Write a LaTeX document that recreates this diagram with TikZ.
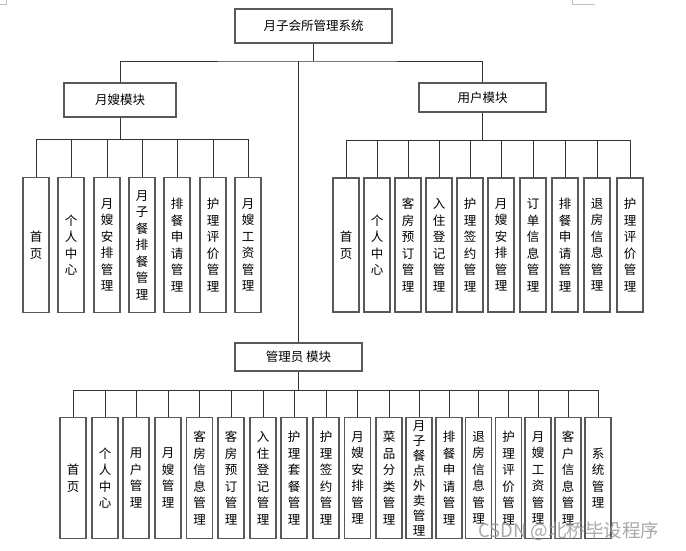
\documentclass[tikz,border=0pt]{standalone}
\usepackage{fontspec}
\setmainfont{Noto Sans CJK SC}
\newfontfamily\wmfont{Noto Sans CJK SC}
\begin{document}
\begin{tikzpicture}[x=1pt,y=-1pt,
  boxline/.style={draw=black!65,line width=1.05pt},
  topbox/.style={boxline,fill=white,inner sep=0pt,font=\fontsize{12.5}{15}\selectfont},
  cbox/.style={boxline,fill=white,inner sep=0pt,minimum width=26pt},
  ctext/.style={inner sep=0pt,align=center,font=\fontsize{12.5}{16.5}\selectfont},
  tighttext/.style={ctext,font=\fontsize{12.5}{15}\selectfont},
  conn/.style={draw=black!80,line width=0.9pt},
  cornermark/.style={draw=black!25,line width=0.6pt}]
\useasboundingbox (0,0) rectangle (686,551);
\fill[white] (0,0) rectangle (686,551);
% page corner marks
\draw[cornermark] (0,4) -- (6,4) -- (6,0);
\draw[cornermark] (572,0) -- (572,4) -- (595,4);

% top level
\node[topbox,minimum width=157pt,minimum height=34pt] (root) at (313.5,26) {月子会所管理系统};
\node[topbox,minimum width=112pt,minimum height=34pt] (m1) at (120,100) {月嫂模块};
\node[topbox,minimum width=127pt,minimum height=29pt] (m2) at (482.5,97.5) {用户模块};
\node[topbox,minimum width=127pt,minimum height=28pt] (m3) at (298.5,357) {管理员 模块};

\coordinate (tb) at (313.5,61);
\draw[conn] (root.south) -- (tb);
\draw[conn] (m1.north) |- (tb) -| (m2.north);
\draw[conn] (m3.north) -- (m3.north |- tb);

% child box: name, position, text style, height, text
\newcommand\kid[5]{%
  \node[cbox,minimum height=#4] (#1) at #2 {};
  \node[#3] (#1t) at (#1.center) {#5};}

% left group
\kid{l1}{(36,245)}{ctext}{135pt}{首\\页}
\kid{l2}{(71,245)}{ctext}{135pt}{个\\人\\中\\心}
\kid{l3}{(107,245)}{ctext}{135pt}{月\\嫂\\安\\排\\管\\理}
\kid{l4}{(142,245)}{ctext}{135pt}{月\\子\\餐\\排\\餐\\管\\理}
\kid{l5}{(177,245)}{ctext}{135pt}{排\\餐\\申\\请\\管\\理}
\kid{l6}{(213,245)}{ctext}{135pt}{护\\理\\评\\价\\管\\理}
\kid{l7}{(248,245)}{ctext}{135pt}{月\\嫂\\工\\资\\管\\理}
\coordinate (lb) at (120,139);
\draw[conn] (m1.south) -- (lb);
\foreach \i in {1,...,7} \draw[conn] (l\i.north) |- (lb);

% right group
\kid{r1}{(346,245)}{ctext}{134pt}{首\\页}
\kid{r2}{(377,245)}{ctext}{134pt}{个\\人\\中\\心}
\kid{r3}{(408,245)}{ctext}{134pt}{客\\房\\预\\订\\管\\理}
\kid{r4}{(439,245)}{ctext}{134pt}{入\\住\\登\\记\\管\\理}
\kid{r5}{(470,245)}{ctext}{134pt}{护\\理\\签\\约\\管\\理}
\kid{r6}{(501,245)}{ctext}{134pt}{月\\嫂\\安\\排\\管\\理}
\kid{r7}{(533,245)}{ctext}{134pt}{订\\单\\信\\息\\管\\理}
\kid{r8}{(565,245)}{ctext}{134pt}{排\\餐\\申\\请\\管\\理}
\kid{r9}{(597,245)}{ctext}{134pt}{退\\房\\信\\息\\管\\理}
\kid{r10}{(630,245)}{ctext}{134pt}{护\\理\\评\\价\\管\\理}
\coordinate (rb) at (482.5,140);
\draw[conn] (m2.south) -- (rb);
\foreach \i in {1,...,10} \draw[conn] (r\i.north) |- (rb);

% admin group
\kid{a1}{(73,478)}{ctext}{121pt}{首\\页}
\kid{a2}{(105,478)}{ctext}{121pt}{个\\人\\中\\心}
\kid{a3}{(136,478)}{ctext}{121pt}{用\\户\\管\\理}
\kid{a4}{(168,478)}{ctext}{121pt}{月\\嫂\\管\\理}
\kid{a5}{(199.5,478)}{ctext}{121pt}{客\\房\\信\\息\\管\\理}
\kid{a6}{(231,478)}{ctext}{121pt}{客\\房\\预\\订\\管\\理}
\kid{a7}{(263,478)}{ctext}{121pt}{入\\住\\登\\记\\管\\理}
\kid{a8}{(294,478)}{ctext}{121pt}{护\\理\\套\\餐\\管\\理}
\kid{a9}{(326,478)}{ctext}{121pt}{护\\理\\签\\约\\管\\理}
\kid{a10}{(357.5,478)}{ctext}{121pt}{月\\嫂\\安\\排\\管\\理}
\kid{a11}{(389,478)}{ctext}{121pt}{菜\\品\\分\\类\\管\\理}
\kid{a12}{(419,478)}{tighttext}{121pt}{月\\子\\餐\\点\\外\\卖\\管\\理}
\kid{a13}{(449,478)}{ctext}{121pt}{排\\餐\\申\\请\\管\\理}
\kid{a14}{(478.5,478)}{ctext}{121pt}{退\\房\\信\\息\\管\\理}
\kid{a15}{(508.5,478)}{ctext}{121pt}{护\\理\\评\\价\\管\\理}
\kid{a16}{(538,478)}{ctext}{121pt}{月\\嫂\\工\\资\\管\\理}
\kid{a17}{(568,478)}{ctext}{121pt}{客\\户\\信\\息\\管\\理}
\kid{a18}{(598,478)}{ctext}{121pt}{系\\统\\管\\理}
\coordinate (ab) at (298.5,390.5);
\draw[conn] (m3.south) -- (ab);
\foreach \i in {1,...,18} \draw[conn] (a\i.north) |- (ab);

% watermark
\node[anchor=west,inner sep=0pt,text=black!40,opacity=0.85,font=\wmfont\fontsize{18.5}{20}\selectfont] (wm) at (478,531) {CSDN @北桥毕设程序};
\end{tikzpicture}
\end{document}
